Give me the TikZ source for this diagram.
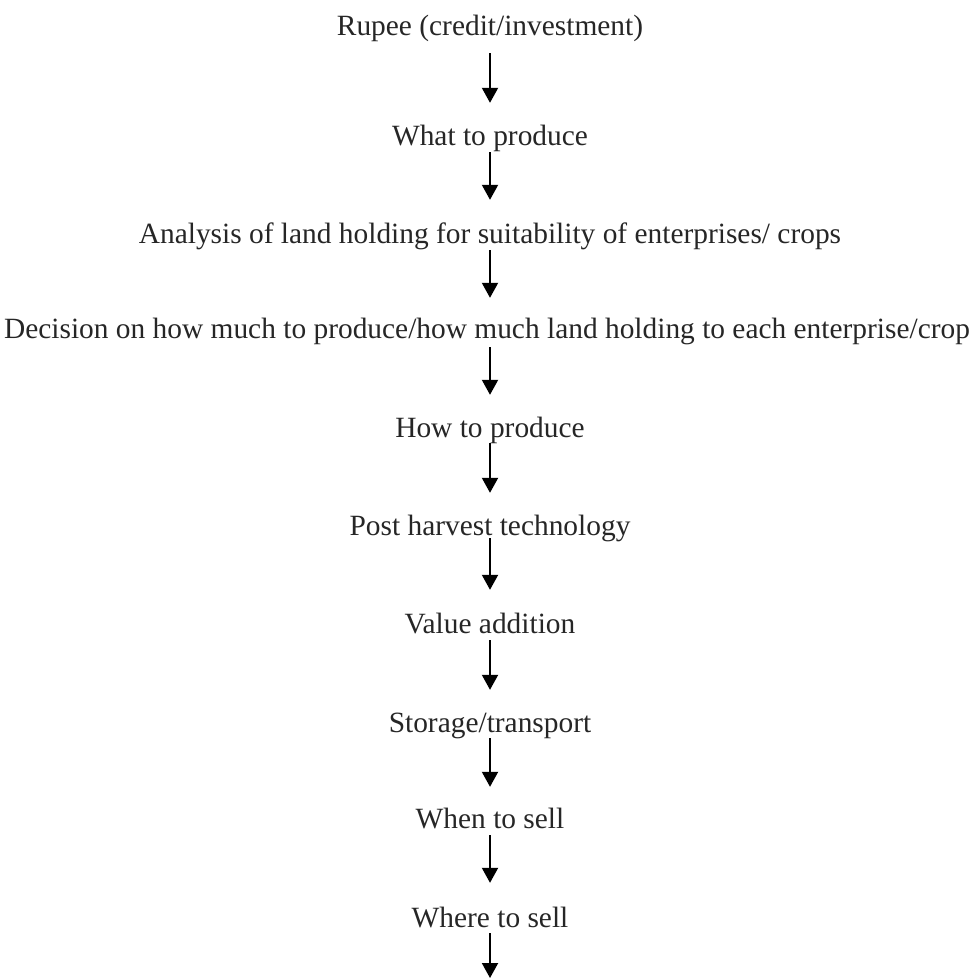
\documentclass[tikz,border=0pt]{standalone}
\usepackage{fontspec}
\setmainfont{Liberation Serif}
\usetikzlibrary{arrows.meta}
\begin{document}
\begin{tikzpicture}[x=1pt,y=-1pt,
  lbl/.style={anchor=base,inner sep=0pt,text height=20pt,text depth=7pt,
    font=\fontsize{29.4}{34}\selectfont,text=black!85},
  flow/.style={line width=2pt,-{Triangle[width=16pt,length=15pt]}}]
\useasboundingbox (0,0) rectangle (976,978);
\node[lbl] (n1) at (490,35) {Rupee (credit/investment)};
\node[lbl] (n2) at (490,145) {What to produce};
\node[lbl] (n3) at (490,243) {Analysis of land holding for suitability of enterprises/ crops};
\node[lbl] (n4) at (487,338) {Decision on how much to produce/how much land holding to each enterprise/crop};
\node[lbl] (n5) at (490,437) {How to produce};
\node[lbl] (n6) at (490,535) {Post harvest technology};
\node[lbl] (n7) at (490,633) {Value addition};
\node[lbl] (n8) at (490,732) {Storage/transport};
\node[lbl] (n9) at (490,828) {When to sell};
\node[lbl] (n10) at (490,927) {Where to sell};
\coordinate (end) at (490,978);
\draw[flow] ([yshift=-11pt]n1.south -| end) -- ([yshift=22pt]n2.north -| end);
\draw[flow] ([yshift=0pt]n2.south -| end) -- ([yshift=23pt]n3.north -| end);
\draw[flow] ([yshift=0pt]n3.south -| end) -- ([yshift=20pt]n4.north -| end);
\draw[flow] ([yshift=-2pt]n4.south -| end) -- ([yshift=22pt]n5.north -| end);
\draw[flow] ([yshift=1pt]n5.south -| end) -- ([yshift=22pt]n6.north -| end);
\draw[flow] ([yshift=4pt]n6.south -| end) -- ([yshift=23pt]n7.north -| end);
\draw[flow] ([yshift=0pt]n7.south -| end) -- ([yshift=22pt]n8.north -| end);
\draw[flow] ([yshift=1pt]n8.south -| end) -- ([yshift=21pt]n9.north -| end);
\draw[flow] ([yshift=0pt]n9.south -| end) -- ([yshift=24pt]n10.north -| end);
\draw[flow] ([yshift=1pt]n10.south -| end) -- (end);
\end{tikzpicture}
\end{document}
